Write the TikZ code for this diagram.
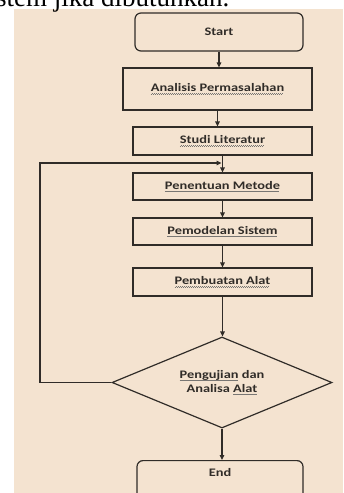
\documentclass[tikz,border=0pt]{standalone}
\usepackage{fontspec}
\usetikzlibrary{shapes.geometric,arrows.meta}
\newfontfamily\chartfont[FakeStretch=1.25]{Carlito}
\newfontfamily\pagefont{Liberation Serif}
\definecolor{paper}{RGB}{244,227,208}
\definecolor{ink}{RGB}{48,44,40}
% wavy spell-check mark under a word
\newcommand\spell[1]{\setbox0\hbox{#1}\rlap{\raisebox{-3pt}{\textcolor{ink!65}{\leaders\hbox to 2pt{\rule{1pt}{0.6pt}\rule[0.6pt]{1pt}{0.6pt}}\hskip\wd0}}}\box0\relax}
\tikzstyle{process}=[
        draw=ink,
        line width=1.2pt,
        minimum width=179pt,
        minimum height=28pt,
        inner sep=0pt,
        text=ink,
        align=center,
        font=\chartfont\bfseries\fontsize{11.5}{14}\selectfont
]
\tikzstyle{terminal}=[
        process,
        rounded corners=6pt,
        minimum width=168pt,
        minimum height=38pt
]
\tikzstyle{decision}=[
        process,
        diamond,
        shape aspect=2.4,
        minimum width=220pt,
        minimum height=91pt
]
\tikzstyle{flowline}=[
        draw=ink,
        line width=1.2pt,
        -{Triangle[length=5pt,width=4.5pt]}
]
\begin{document}
\begin{tikzpicture}[x=1pt,y=-1pt]
    \useasboundingbox (0,0) rectangle (343,493);
    \fill[white] (0,0) rectangle (343,493);
    \fill[paper] (14,9) rectangle (343,493);
    \node[anchor=base west, inner sep=0pt, font=\pagefont\fontsize{27}{30}\selectfont] (caption) at (-4,6.5) {stem jika dibutuhkan.};

    \node[terminal] (start) at (219,32) {Start};
    \node[process, minimum width=189pt, minimum height=42pt] (analisis) at (217.5,89) {\spell{Analisis Permasalahan}};
    \node[process] (studi) at (222.5,141) {\spell{Studi Literatur}};
    \node[process, minimum height=27pt] (metode) at (222.5,186.5) {\spell{Penentuan Metode}};
    \node[process, minimum height=27pt] (model) at (222.5,231.5) {\spell{Pemodelan Sistem}};
    \node[process] (alat) at (222.5,282) {\spell{Pembuatan Alat}};
    \node[decision] (uji) at (222,382.5) {\spell{Pengujian} dan\\Analisa \spell{Alat}};
    \node[terminal, anchor=north, minimum width=166pt, minimum height=44pt, text depth=20pt] (end) at (220,460) {End};

    \foreach \a/\b in {start/analisis, analisis/studi, studi/metode, metode/model, model/alat, alat/uji, uji/end} {
        \draw[flowline] (\a.south) -- (\a.south |- \b.north);
    }

    \coordinate (back) at (40,163);
    \draw[flowline, shorten >=1pt] (uji.west) -| (back) -- (studi.south |- back);
\end{tikzpicture}
\end{document}
